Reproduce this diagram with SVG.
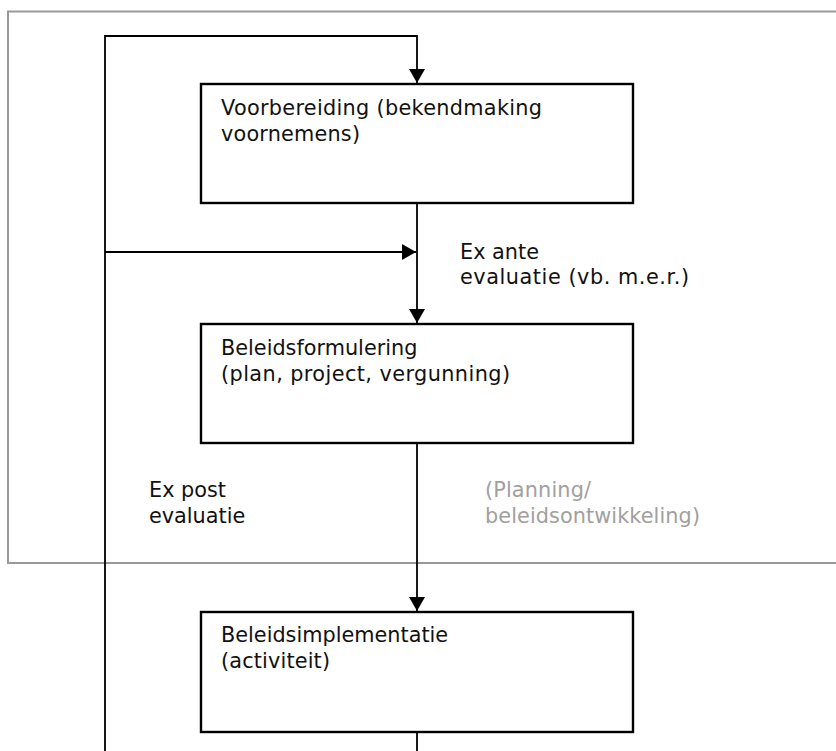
<svg xmlns="http://www.w3.org/2000/svg" width="836" height="751" viewBox="0 0 836 751">
  <style>
    .frame { fill: none; stroke: #999999; stroke-width: 2; }
    .box { fill: #ffffff; stroke: #000000; stroke-width: 2.4; }
    .link { fill: none; stroke: #000000; stroke-width: 1.8; }
    .label { font-family: "DejaVu Sans", Verdana, sans-serif; font-size: 20.8px; fill: #111111; }
    .muted { fill: #a0a0a0; }
  </style>
  <defs>
    <marker id="arrow" viewBox="0 0 14 16" refX="14" refY="8" markerWidth="14" markerHeight="16" markerUnits="userSpaceOnUse" orient="auto">
      <path d="M0,0 L14,8 L0,16 Z" fill="#000000"/>
    </marker>
  </defs>

  <rect width="836" height="751" fill="#ffffff"/>

  <!-- open frame around the planning phase -->
  <path class="frame" d="M837,11.5 H8 V563 H837"/>

  <!-- connectors -->
  <g id="connectors">
    <path class="link" d="M105,751 V36 H417 V83" marker-end="url(#arrow)"/>
    <path class="link" d="M105,252 H416" marker-end="url(#arrow)"/>
    <path class="link" d="M417,204 V323" marker-end="url(#arrow)"/>
    <path class="link" d="M417,444 V611" marker-end="url(#arrow)"/>
    <path class="link" d="M417,733 V751"/>
  </g>

  <!-- process steps -->
  <g id="voorbereiding">
    <rect class="box" x="201" y="84" width="432" height="119"/>
    <text class="label" x="221" y="115" textLength="321" lengthAdjust="spacing">Voorbereiding (bekendmaking</text>
    <text class="label" x="221" y="141" textLength="139" lengthAdjust="spacing">voornemens)</text>
  </g>

  <g id="beleidsformulering">
    <rect class="box" x="201" y="324" width="432" height="119"/>
    <text class="label" x="221" y="355">Beleidsformulering</text>
    <text class="label" x="221" y="381" textLength="289" lengthAdjust="spacing">(plan, project, vergunning)</text>
  </g>

  <g id="beleidsimplementatie">
    <rect class="box" x="201" y="612" width="432" height="120"/>
    <text class="label" x="221" y="642">Beleidsimplementatie</text>
    <text class="label" x="221" y="668" textLength="109" lengthAdjust="spacing">(activiteit)</text>
  </g>

  <!-- annotations -->
  <g id="ex-ante">
    <text class="label" x="460" y="259">Ex ante</text>
    <text class="label" x="460" y="284" textLength="229" lengthAdjust="spacing">evaluatie (vb. m.e.r.)</text>
  </g>

  <g id="ex-post">
    <text class="label" x="149" y="497">Ex post</text>
    <text class="label" x="149" y="523">evaluatie</text>
  </g>

  <g id="planning">
    <text class="label muted" x="485" y="497" textLength="106" lengthAdjust="spacing">(Planning/</text>
    <text class="label muted" x="485" y="523" textLength="215" lengthAdjust="spacing">beleidsontwikkeling)</text>
  </g>
</svg>
